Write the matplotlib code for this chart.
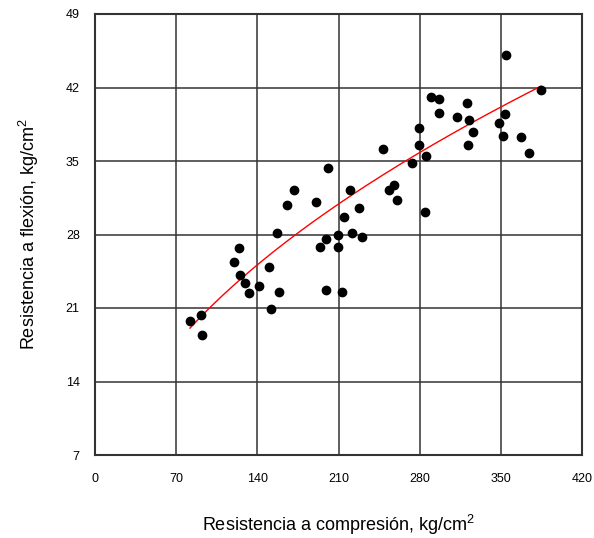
import numpy as np
import matplotlib
matplotlib.use('Agg')
import matplotlib.pyplot as plt

plt.rcParams['font.family'] = ['Liberation Sans', 'DejaVu Sans']
plt.rcParams['mathtext.fontset'] = 'custom'
plt.rcParams['mathtext.rm'] = 'Liberation Sans'

# compressive strength (kg/cm2) and flexural strength (kg/cm2)
compresion = [81.9, 91.4, 92.3, 119.9, 124.2, 125.1, 129.4, 132.8, 141.4, 150.1,
              151.8, 157.0, 158.7, 165.6, 171.6, 190.6, 194.0, 199.2, 200.9, 199.2,
              209.6, 209.6, 213.0, 214.7, 219.9, 221.6, 227.7, 230.3, 248.4, 253.6,
              257.9, 260.5, 273.4, 279.4, 279.4, 285.5, 284.6, 289.8, 296.7, 296.7,
              312.2, 320.8, 322.6, 326.0, 321.7, 348.4, 351.9, 353.6, 354.5, 367.4,
              374.3, 384.6]
flexion = [19.8, 20.3, 18.4, 25.4, 26.7, 24.1, 23.4, 22.4, 23.1, 24.9,
           20.9, 28.1, 22.5, 30.8, 32.2, 31.1, 26.8, 27.6, 34.3, 22.7,
           28.0, 26.8, 22.5, 29.7, 32.2, 28.1, 30.5, 27.8, 36.1, 32.2,
           32.7, 31.3, 34.8, 38.1, 36.5, 35.5, 30.1, 41.1, 40.9, 39.6,
           39.2, 40.5, 38.9, 37.8, 36.5, 38.6, 37.4, 39.5, 45.1, 37.3,
           35.8, 41.8]

# power trend line y = a * x^b as drawn in the chart
trend_a = 2.0
trend_b = 0.512

x_ticks = [0, 70, 140, 210, 280, 350, 420]
y_ticks = [7, 14, 21, 28, 35, 42, 49]

x = np.array(compresion)
y = np.array(flexion)

xf = np.linspace(x.min(), x.max(), 200)
yf = trend_a * xf ** trend_b

fig = plt.figure(figsize=(5.94, 5.38), dpi=100)
ax = fig.add_axes([95 / 594, 1 - 455 / 538, 487 / 594, 441 / 538])

ax.plot(xf, yf, color='red', lw=1.0, zorder=3)
ax.scatter(x, y, s=36, color='black', marker='o', zorder=4)

ax.set_xlim(0, 420)
ax.set_ylim(7, 49)
ax.set_xticks(x_ticks)
ax.set_yticks(y_ticks)
ax.grid(True, color='#333333', lw=1.1)
ax.set_axisbelow(True)
for s in ax.spines.values():
    s.set_color('#333333')
    s.set_linewidth(1.5)
ax.tick_params(length=0, labelsize=9)
ax.tick_params(axis='x', pad=13)
ax.tick_params(axis='y', pad=11)

ax.set_xlabel('Resistencia a compresión, kg/cm$^{2}$', fontsize=13, labelpad=20)
ax.set_ylabel('Resistencia a flexión, kg/cm$^{2}$', fontsize=13, labelpad=18)

fig.savefig('out.png', dpi=100)
